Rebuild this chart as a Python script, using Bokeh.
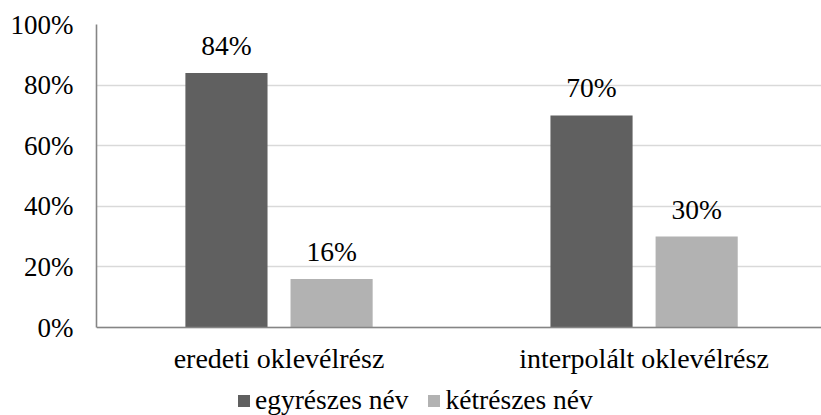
from bokeh.plotting import figure
from bokeh.models import (Range1d, FixedTicker, PrintfTickFormatter, Span,
                          ColumnDataSource, Legend, LegendItem, LabelSet)
from bokeh.transform import dodge
from bokeh.embed import file_html
from bokeh.resources import INLINE

categories = ["eredeti oklevélrész", "interpolált oklevélrész"]
series = ["egyrészes név", "kétrészes név"]
egyreszes = [84, 70]
ketreszes = [16, 30]
y_ticks = [0, 20, 40, 60, 80, 100]

DARK = "#606060"
LIGHT = "#b2b2b2"
AXIS = "#858585"
FONT = "Liberation Serif"

src = ColumnDataSource(dict(
    pos=[i + 0.5 for i in range(len(categories))],
    cat=categories,
    a=egyreszes,
    b=ketreszes,
    la=[f"{v}%" for v in egyreszes],
    lb=[f"{v}%" for v in ketreszes],
))

p = figure(x_range=Range1d(0, 1.986),
           y_range=Range1d(-29.04, 100),
           width=821, height=415,
           output_backend="svg", toolbar_location=None,
           min_border_left=96, min_border_right=0,
           min_border_top=24, min_border_bottom=0)

off = 0.144
bw = 0.225
ra = p.vbar(x=dodge('pos', -off), top='a', width=bw,
            source=src, fill_color=DARK, line_color=None)
rb = p.vbar(x=dodge('pos', off), top='b', width=bw,
            source=src, fill_color=LIGHT, line_color=None)

for col, lab, o in (("a", "la", -off), ("b", "lb", off)):
    p.add_layout(LabelSet(x=dodge('pos', o), y=col, text=lab,
                          y_offset=18, text_align="center",
                          text_baseline="alphabetic",
                          text_font=FONT, text_font_size="27.5px",
                          text_color="black", source=src))

# category labels under the baseline
p.add_layout(LabelSet(x='pos', y=0, text='cat', y_offset=-40,
                      text_align="center", text_baseline="alphabetic",
                      text_font=FONT, text_font_size="28px",
                      text_color="black", source=src))

p.outline_line_color = None
p.xgrid.grid_line_color = None
p.xaxis.visible = False
p.ygrid.grid_line_color = "#d9d9d9"
p.ygrid.grid_line_width = 1.5

p.add_layout(Span(location=0, dimension="width", line_color=AXIS,
                  line_width=1.6))

ya = p.yaxis[0]
ya.ticker = FixedTicker(ticks=y_ticks)
ya.formatter = PrintfTickFormatter(format="%d%%")
ya.bounds = (0, 100)
ya.axis_line_color = AXIS
ya.axis_line_width = 1.6
ya.major_tick_line_color = None
ya.minor_tick_line_color = None
ya.major_tick_out = 0
ya.major_tick_in = 0
ya.minor_tick_out = 0
ya.major_label_text_font = FONT
ya.major_label_text_color = "black"
ya.major_label_text_font_size = "27px"
ya.major_label_standoff = 23

legend = Legend(items=[LegendItem(label=series[0], renderers=[ra]),
                       LegendItem(label=series[1], renderers=[rb])],
                location=(140, -1), orientation="horizontal",
                glyph_width=15, glyph_height=15, label_standoff=4, spacing=18,
                padding=0, margin=0, border_line_color=None,
                background_fill_alpha=0,
                label_text_font=FONT, label_text_font_size="27.5px",
                label_text_color="black")
p.add_layout(legend, "center")

open("out.html", "w").write(file_html(p, INLINE))
